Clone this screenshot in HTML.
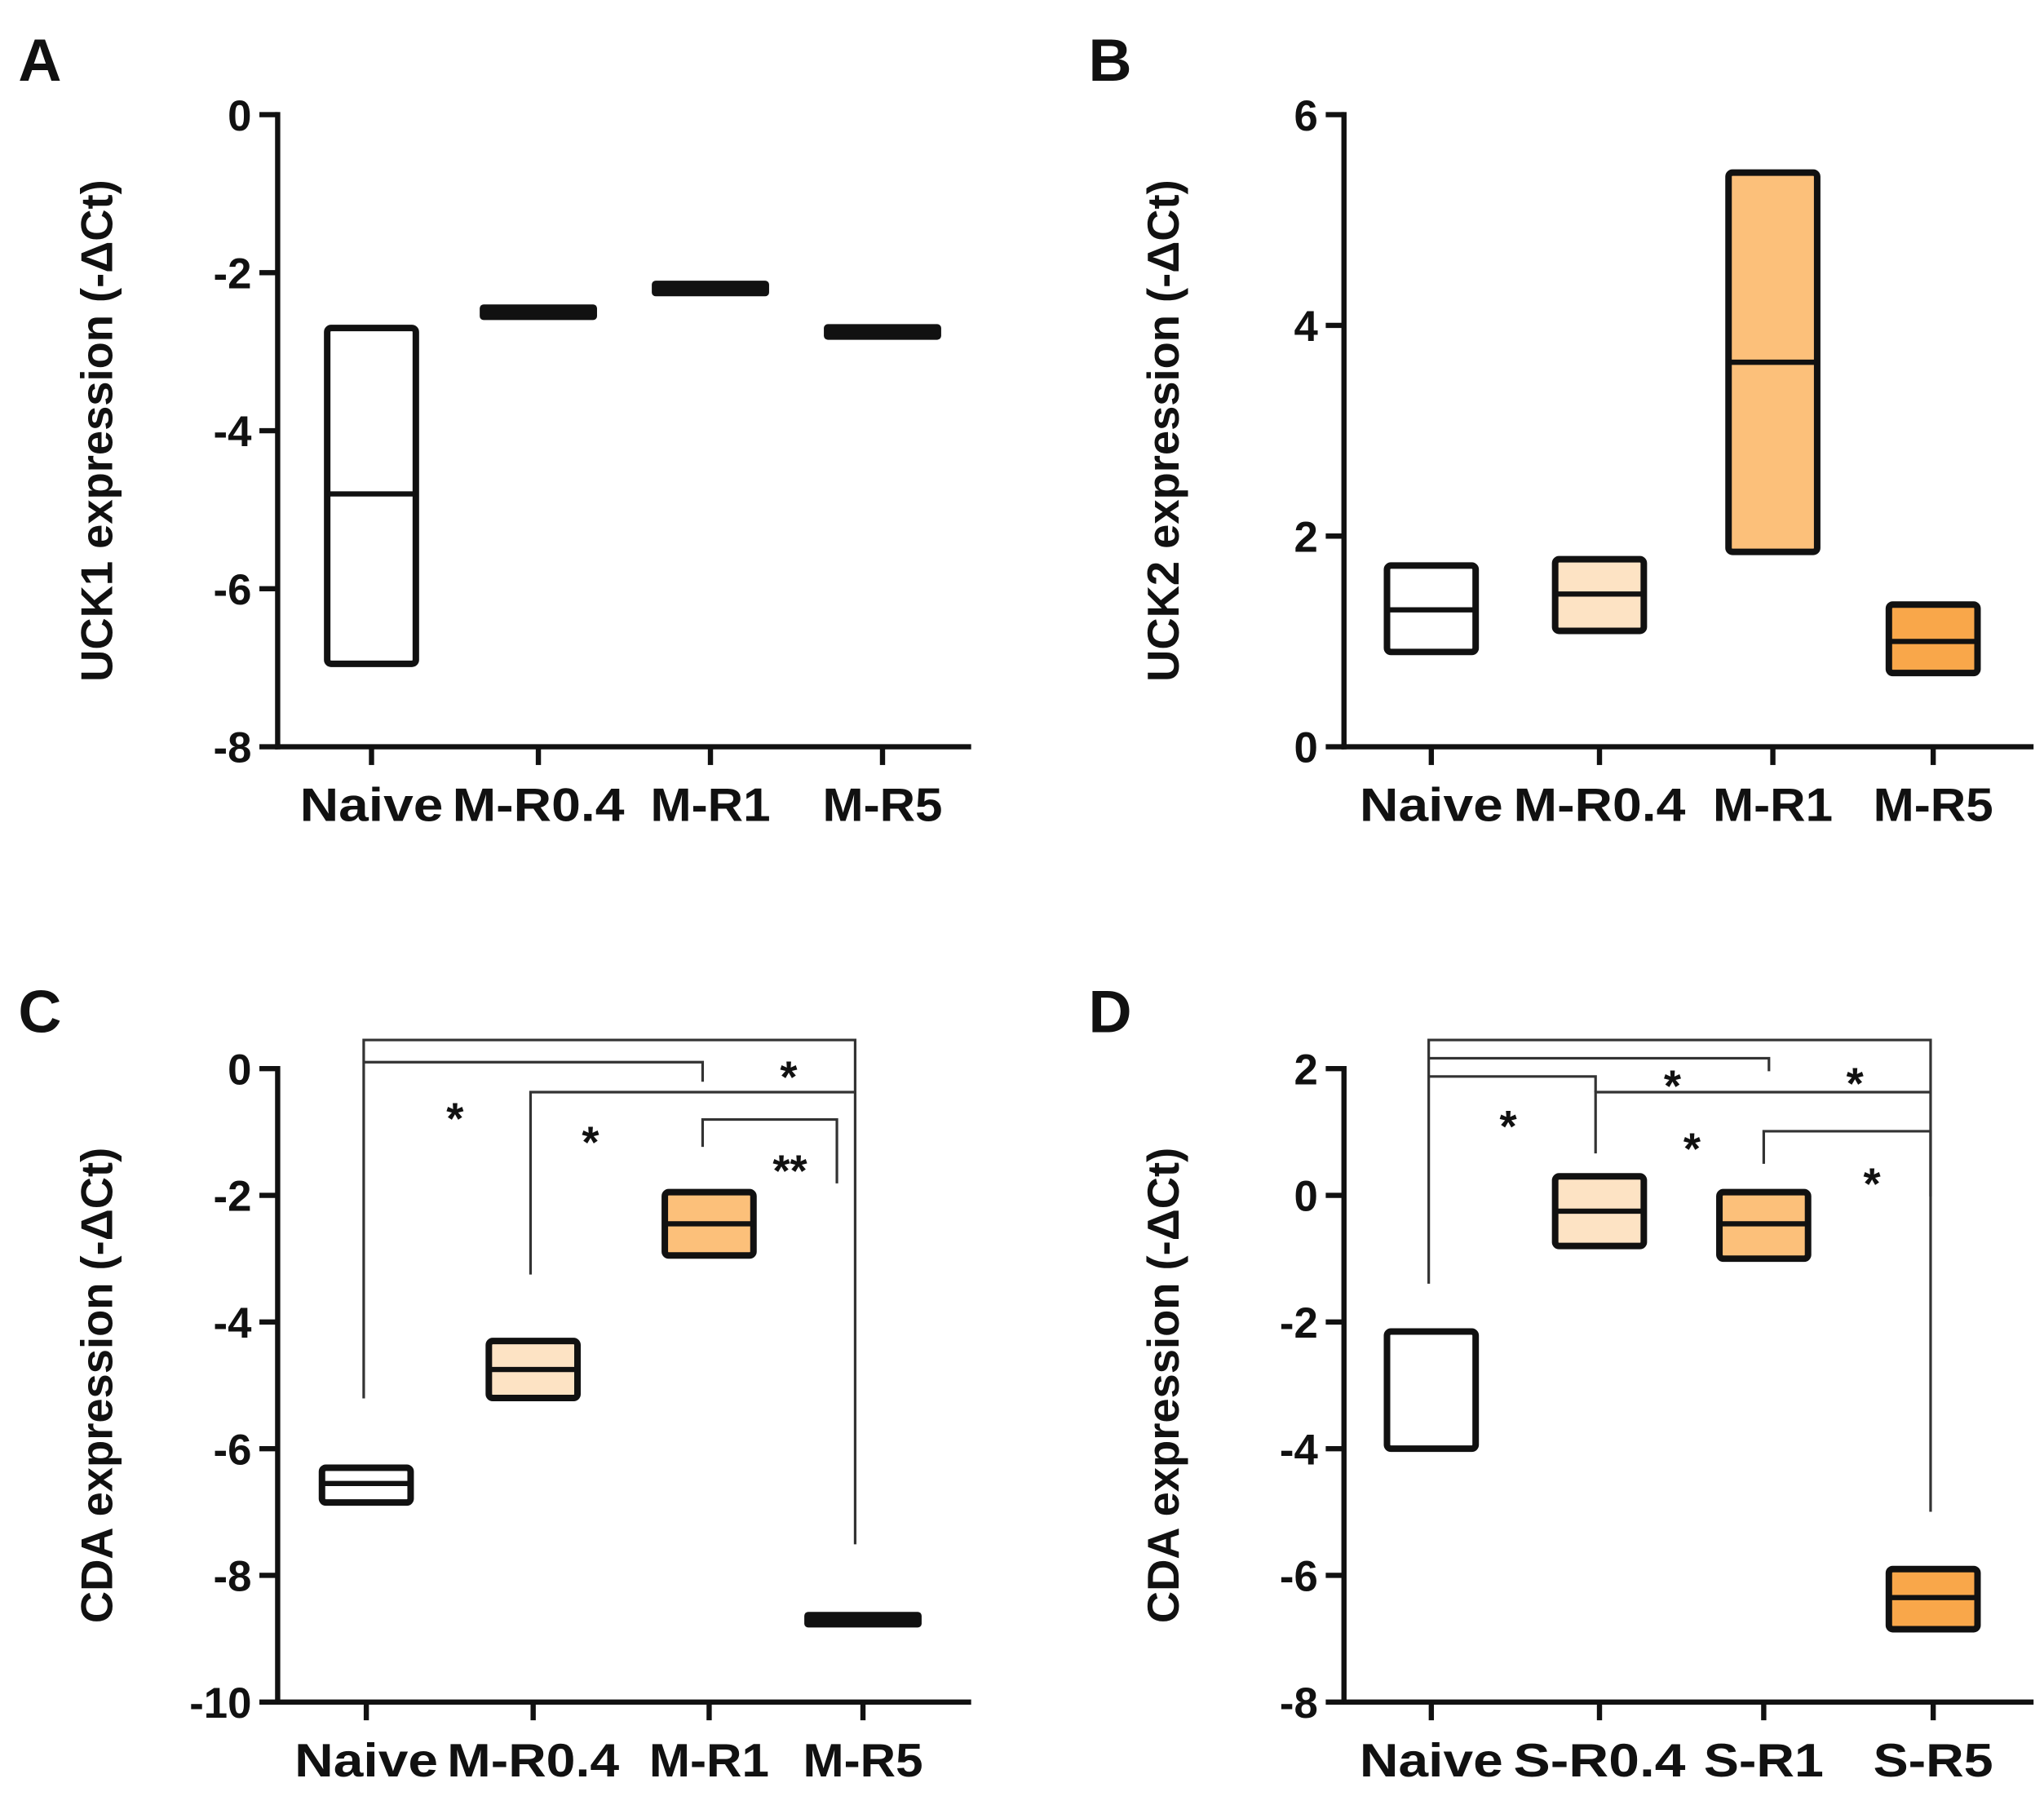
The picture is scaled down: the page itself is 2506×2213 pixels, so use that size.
<!DOCTYPE html>
<html><head><meta charset="utf-8"><style>
html,body{margin:0;padding:0;background:#fff}
svg{display:block}
text{font-family:"Liberation Sans",sans-serif;font-weight:bold;fill:#111}
</style></head><body>
<svg id="fig" width="2506" height="2213" viewBox="0 0 1568 1385" preserveAspectRatio="none" xmlns="http://www.w3.org/2000/svg">
<rect width="1568" height="1385" fill="#fff"/>
</svg>
<script>
// Panel A data (UCK1)
const catsA = ["Naive","M-R0.4","M-R1","M-R5"];
const lowA = [-6.95,-2.55,-2.25,-2.8];
const medA = [-4.8,-2.5,-2.2,-2.75];
const highA = [-2.7,-2.45,-2.15,-2.7];
const ticksA = [0,-2,-4,-6,-8];
// Panel B data (UCK2)
const catsB = ["Naive","M-R0.4","M-R1","M-R5"];
const lowB = [0.9,1.1,1.85,0.7];
const medB = [1.3,1.45,3.65,1.0];
const highB = [1.72,1.78,5.45,1.35];
const ticksB = [0,2,4,6];
// Panel C data (CDA)
const catsC = ["Naive","M-R0.4","M-R1","M-R5"];
const lowC = [-6.85,-5.2,-2.95,-8.75];
const medC = [-6.55,-4.75,-2.45,-8.7];
const highC = [-6.3,-4.3,-1.95,-8.65];
const ticksC = [0,-2,-4,-6,-8,-10];
// Panel D data (CDA)
const catsD = ["Naive","S-R0.4","S-R1","S-R5"];
const lowD = [-4.0,-0.8,-1.0,-6.85];
const medD = [null,-0.25,-0.45,-6.35];
const highD = [-2.15,0.3,0.05,-5.9];
const ticksD = [2,0,-2,-4,-6,-8];
const fills = ["#ffffff","#fde3c4","#fcc07a","#f9a74a"];

const svg = document.getElementById('fig');
const NS = "http://www.w3.org/2000/svg";
function el(tag, attrs, parent){const e=document.createElementNS(NS,tag);for(const k in attrs)e.setAttribute(k,attrs[k]);(parent||svg).appendChild(e);return e;}

function panel(id, letter, lx, ly, ax, ytop, ybot, xend, ymax, ymin, ticks, cats, catX, lows, meds, highs, fillIdx, ytitle){
  const g = el('g',{});
  
  
  const y = v => ytop + (ymax - v) / (ymax - ymin) * (ybot - ytop);
  const L = el('text',{x:lx,y:ly,'font-size':46},g); L.textContent=letter;
  
  
  const yaxis = el('line',{x1:ax,y1:ytop-2,x2:ax,y2:ybot+2,stroke:'#111','stroke-width':4},g);
  
  
  const xaxis = el('line',{x1:ax-2,y1:ybot,x2:xend,y2:ybot,stroke:'#111','stroke-width':4},g);
  
  
  ticks.forEach(t=>{
    el('line',{x1:ax-14,y1:y(t),x2:ax,y2:y(t),stroke:'#111','stroke-width':4},g);
    const tx = el('text',{x:ax-20,y:y(t)+12,'font-size':33,'text-anchor':'end'},g);
    tx.textContent = t;
    
    
  });
  const yt = el('text',{x:0,y:0,'font-size':34,'text-anchor':'middle',transform:`translate(${ax-127},${(ytop+ybot)/2}) rotate(-90)`},g);
  yt.textContent = ytitle;
  
  
  cats.forEach((c,i)=>{
    const cx = catX[i];
    el('line',{x1:cx,y1:ybot,x2:cx,y2:ybot+14,stroke:'#111','stroke-width':4},g);
    const ct = el('text',{x:cx,y:ybot+57,'font-size':36,'text-anchor':'middle',textLength:(c.length>4?(c.length*22):c.length*23),lengthAdjust:'spacingAndGlyphs'},g);
    ct.textContent = c;
    
    
    const hw = 45;
    const top = y(highs[i]), bot = y(lows[i]);
    if (bot-top < 14) {
      const b = el('rect',{x:cx-hw,y:y(meds[i])-6,width:hw*2,height:12,rx:3,fill:'#111'},g);
      
      
    } else {
      const b = el('rect',{x:cx-34,y:top,width:68,height:bot-top,rx:3,fill:fills[fillIdx[i]],stroke:'#111','stroke-width':5},g);
      
      
      if (meds[i]!==null){
        const m = el('line',{x1:cx-34,y1:y(meds[i]),x2:cx+34,y2:y(meds[i]),stroke:'#111','stroke-width':4},g);
        
        
      }
    }
  });
  return g;
}
panel('a','A',14,62,213,88,573,745,0,-8,ticksA,catsA,[285,413,545,677],lowA,medA,highA,[0,1,2,3],'UCK1 expression (-\u0394Ct)');
panel('b','B',835,62,1031,88,573,1560,6,0,ticksB,catsB,[1098,1227,1360,1483],lowB,medB,highB,[0,1,2,3],'UCK2 expression (-\u0394Ct)');
panel('c','C',14,792,213,820,1306,745,0,-10,ticksC,catsC,[281,409,544,662],lowC,medC,highC,[0,1,2,3],'CDA expression (-\u0394Ct)');
panel('d','D',835,792,1031,820,1306,1560,2,-8,ticksD,catsD,[1098,1227,1353,1483],lowD,medD,highD,[0,1,2,3],'CDA expression (-\u0394Ct)');

function path(d,name){const p=el('path',{d:d,fill:'none',stroke:'#333','stroke-width':2});}
function star(x,y,s,name){const t=el('text',{x:x,y:y,'font-size':34,'text-anchor':'middle'});t.textContent=s;}
// C
path('M279,1073 L279,798 L656,798 L656,1185','bracket-c-naive-r5');
path('M279,815 L539,815 L539,830','bracket-c-naive-r1');
path('M407,978 L407,838 L656,838','bracket-c-r04-r5');
path('M539,880 L539,859 L642,859 L642,908','bracket-c-r1-r5');
star(349,870,'*','sig-star'); star(605,838,'*','sig-star'); star(453,888,'*','sig-star'); star(606,910,'**','sig-star');
// D
path('M1096,985 L1096,798 L1481,798 L1481,1160','bracket-d-naive-r5');
path('M1096,812 L1357,812 L1357,822','bracket-d-naive-r1');
path('M1096,826 L1224,826 L1224,838','bracket-d-naive-r04');
path('M1224,885 L1224,838 L1481,838','bracket-d-r04-r5');
path('M1353,893 L1353,868 L1481,868 L1481,918','bracket-d-r1-r5');
star(1157,876,'*','sig-star'); star(1283,845,'*','sig-star'); star(1423,843,'*','sig-star'); star(1298,893,'*','sig-star'); star(1436,920,'*','sig-star');
</script>
</body></html>
